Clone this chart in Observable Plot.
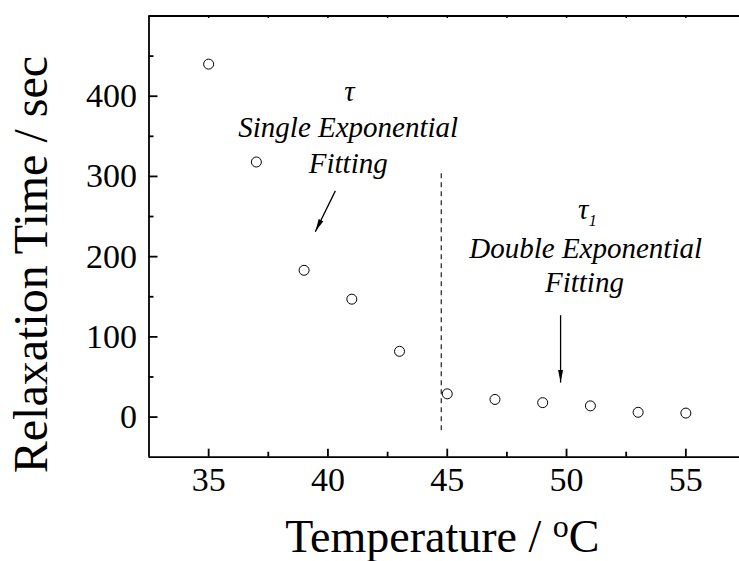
<!DOCTYPE html>
<html>
<head>
<meta charset="utf-8">
<script src="https://cdn.jsdelivr.net/npm/d3@7"></script>
<script src="https://cdn.jsdelivr.net/npm/@observablehq/plot@0.6"></script>
<style>
  html, body { margin: 0; padding: 0; background: #fff; overflow: hidden; }
  #chart { width: 739px; height: 561px; overflow: hidden; }
</style>
</head>
<body>
<div id="chart"></div>
<script>
// ---- data ----
const temperatures = [35, 37, 39, 41, 43, 45, 47, 49, 51, 53, 55];
const relaxationTimes = [440, 318, 183, 147, 82, 29, 22, 18, 14, 6, 5];

const xTickLabels = [35, 40, 45, 50, 55];
const xMinorTicks = [37.5, 42.5, 47.5, 52.5];
const yTickLabels = [0, 100, 200, 300, 400];
const yMinorTicks = [50, 150, 250, 350, 450];

const xLabel = "Temperature / oC";
const yLabel = "Relaxation Time / sec";

// divider between single and double exponential fitting regimes
const dividerX = [44.75];
const dividerY = [-17, 305];

// annotations (data coordinates)
const annotationText = ["τ", "Single Exponential", "Fitting", "τ", "Double Exponential", "Fitting"];
const annotationX = [40.9, 40.85, 40.85, 50.7, 50.8, 50.75];
const annotationY = [405, 361, 316, 259, 210, 167];
const subscriptText = ["1"];
const subscriptX = [51.1];
const subscriptY = [245];

const arrowFrom = [[40.31, 282], [49.75, 127]];
const arrowTo = [[39.47, 231], [49.75, 43]];

// ---- layout ----
const W = 739, H = 561;
const mL = 148.5, mT = 15.5, mB = 104.3, mR = -6;
const frameH = H - mT - mB;
const frameW = W - mL - mR;
const font = "'Liberation Serif', 'Times New Roman', serif";

const annotations = annotationText.map((t, i) => ({t, x: annotationX[i], y: annotationY[i]}));
const subs = subscriptText.map((t, i) => ({t, x: subscriptX[i], y: subscriptY[i]}));
const arrows = arrowFrom.map((a, i) => ({x1: a[0], y1: a[1], x2: arrowTo[i][0], y2: arrowTo[i][1]}));
const points = temperatures.map((x, i) => ({x, y: relaxationTimes[i]}));

const arrowHead = (color) => {
  const m = d3.create("svg:marker")
    .attr("viewBox", "-13 -3 13 6")
    .attr("markerWidth", 13)
    .attr("markerHeight", 6)
    .attr("markerUnits", "userSpaceOnUse")
    .attr("refX", 0).attr("refY", 0)
    .attr("orient", "auto");
  m.append("path").attr("d", "M-13,-2.6L0,0L-13,2.6Z").attr("fill", color).attr("stroke", "none");
  return m.node();
};

const svg = Plot.plot({
  width: W,
  height: H,
  marginLeft: mL,
  marginTop: mT,
  marginBottom: mB,
  marginRight: mR,
  style: {fontFamily: font, background: "#fff", color: "#000"},
  x: {domain: [32.5, 57.5]},
  y: {domain: [-50, 500]},
  marks: [
    // axis labels (tick values)
    Plot.axisX({ticks: xTickLabels, tickSize: 0, tickPadding: 10, fontSize: 34, label: null, tickFormat: d => String(d)}),
    Plot.axisY({ticks: yTickLabels, tickSize: 0, tickPadding: 12, fontSize: 34, label: null, tickFormat: d => String(d)}),
    // inward ticks
    Plot.ruleX(xTickLabels, {insetTop: frameH - 8, strokeWidth: 1.8}),
    Plot.ruleX(xMinorTicks, {insetTop: frameH - 5, strokeWidth: 1.8}),
    Plot.ruleX(xTickLabels.concat(xMinorTicks), {insetBottom: frameH - 2.5, strokeWidth: 1.5}),
    Plot.ruleY(yTickLabels, {insetRight: frameW - 9, strokeWidth: 1.8}),
    Plot.ruleY(yMinorTicks, {insetRight: frameW - 5, strokeWidth: 1.8}),
    // frame lines (left, bottom, top)
    Plot.ruleX([32.5], {strokeWidth: 1.8}),
    Plot.ruleY([-50, 500], {strokeWidth: 1.8}),
    // divider
    Plot.ruleX(dividerX, {y1: dividerY[0], y2: dividerY[1], stroke: "#333", strokeWidth: 1.3, strokeDasharray: "5,4"}),
    // data points
    Plot.dot(points, {x: "x", y: "y", r: 5, stroke: "#000", strokeWidth: 1, fill: "none"}),
    // arrows
    Plot.link(arrows, {x1: "x1", y1: "y1", x2: "x2", y2: "y2", stroke: "#000", strokeWidth: 1.3, markerEnd: arrowHead}),
    // annotations
    Plot.text(annotations, {x: "x", y: "y", text: "t", fontSize: 29, fontStyle: "italic", fill: "#000"}),
    Plot.text(subs, {x: "x", y: "y", text: "t", fontSize: 16, fontStyle: "italic", fill: "#000"}),
    // axis titles
    Plot.text([xLabel], {frameAnchor: "bottom", textAnchor: "middle", lineAnchor: "middle", dx: -5, dy: 80, fontSize: 46, fill: "#000"}),
    Plot.text([yLabel], {frameAnchor: "left", textAnchor: "middle", lineAnchor: "middle", rotate: -90, dx: -117, dy: 28, fontSize: 48, fill: "#000"})
  ]
});

// superscript "o" in the x-axis title
svg.querySelectorAll("text").forEach(t => {
  if (t.textContent === xLabel) {
    t.textContent = "";
    const ns = "http://www.w3.org/2000/svg";
    const a = document.createElementNS(ns, "tspan");
    a.textContent = "Temperature / ";
    const o = document.createElementNS(ns, "tspan");
    o.textContent = "o";
    o.setAttribute("font-size", "32");
    o.setAttribute("dy", "-15");
    const c = document.createElementNS(ns, "tspan");
    c.textContent = "C";
    c.setAttribute("dy", "15");
    t.append(a, o, c);
  }
});

document.getElementById("chart").append(svg);
</script>
</body>
</html>
